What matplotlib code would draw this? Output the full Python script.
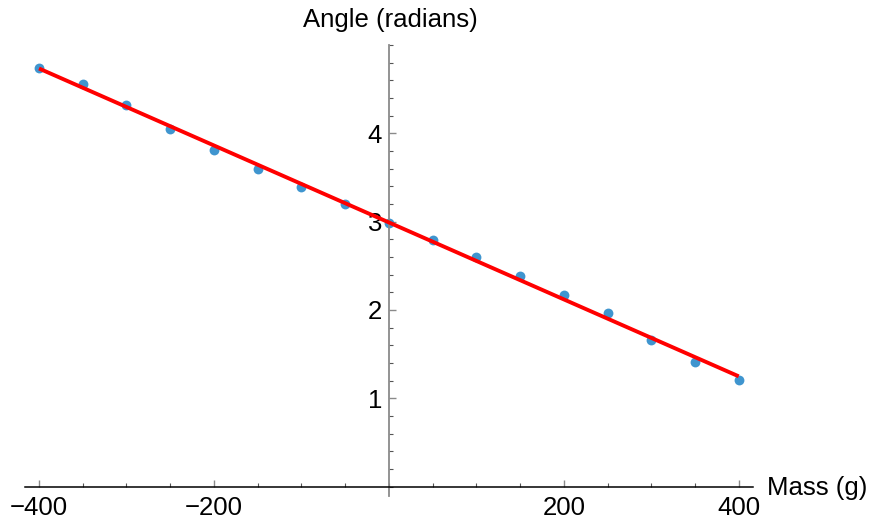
import numpy as np
import matplotlib
matplotlib.use("Agg")
import matplotlib.pyplot as plt
from matplotlib.ticker import MultipleLocator, FixedLocator

mass = [-400, -350, -300, -250, -200, -150, -100, -50, 0, 50, 100, 150, 200, 250, 300, 350, 400]
angle = [4.737, 4.558, 4.32, 4.053, 3.812, 3.597, 3.397, 3.197, 2.989, 2.793,
         2.597, 2.385, 2.173, 1.963, 1.66, 1.408, 1.207]
xticks = [-400, -200, 200, 400]
yticks = [1, 2, 3, 4]
xlabel = "Mass (g)"
ylabel = "Angle (radians)"

plt.rcParams['font.family'] = ['Liberation Sans', 'DejaVu Sans']

fig = plt.figure(figsize=(8.74, 5.24), dpi=100)
ax = fig.add_axes([25/874, 1-495.7/524, (752.7-25)/874, (495.7-45)/524])

ax.scatter(mass, angle, s=50, color='#3f95cf', zorder=2, linewidths=0)
coef = np.polyfit(mass, angle, 1)
xf = np.array([min(mass), max(mass)])
ax.plot(xf, np.polyval(coef, xf), color='#ff0000', lw=2.8, zorder=3, solid_capstyle='butt')

ax.set_xlim(-416, 416)
ax.set_ylim(-0.104, 5.0)

for s in ['top', 'right']:
    ax.spines[s].set_visible(False)
ax.spines['left'].set_position(('data', 0))
ax.spines['bottom'].set_position(('data', 0))
ax.spines['left'].set_color('#8a8a8a')
ax.spines['bottom'].set_color('#000000')
ax.spines['left'].set_linewidth(1.3)
ax.spines['bottom'].set_linewidth(1.1)

ax.xaxis.set_major_locator(FixedLocator(xticks))
ax.xaxis.set_minor_locator(MultipleLocator(50))
ax.yaxis.set_major_locator(FixedLocator(yticks))
ax.yaxis.set_minor_locator(MultipleLocator(0.2))
ax.set_xticklabels([f"\u2212{abs(v)}" if v < 0 else str(v) for v in xticks])
ax.set_yticklabels([str(v) for v in yticks])

fs = 18.5
ax.tick_params(axis='both', which='major', direction='in', length=5, width=1,
               color='#8a8a8a', labelsize=fs, labelcolor='black')
ax.tick_params(axis='both', which='minor', direction='in', length=3, width=0.8,
               color='#555555')
ax.tick_params(axis='x', which='major', pad=7)
ax.tick_params(axis='y', which='major', pad=5)

fig.text(390/874, 1-27/524, ylabel, ha='center', va='baseline', fontsize=fs)
fig.text(767/874, 1-495/524, xlabel, ha='left', va='baseline', fontsize=fs)

fig.savefig("out.png", dpi=100)
